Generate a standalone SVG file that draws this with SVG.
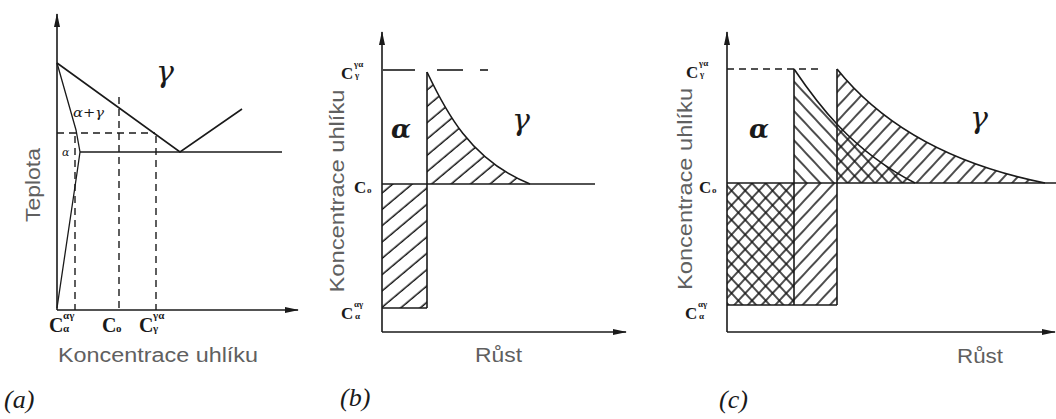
<svg xmlns="http://www.w3.org/2000/svg" width="1056" height="419" viewBox="0 0 1056 419">
<style>
.ln{fill:none;stroke:#1a1a1a;stroke-width:1.6}
.th{fill:none;stroke:#1a1a1a;stroke-width:1.3}
.ds{fill:none;stroke:#1a1a1a;stroke-width:1.4;stroke-dasharray:7 5}
.ax{font-family:"Liberation Sans",Arial,sans-serif;font-size:20px;fill:#606060}
.cl{font-family:"Liberation Serif","DejaVu Serif",serif;font-weight:bold;fill:#1a1a1a}
.gr{font-family:"DejaVu Serif",serif;font-style:italic;fill:#1a1a1a}
.pl{font-family:"Liberation Serif","DejaVu Serif",serif;font-style:italic;font-size:26px;fill:#1a1a1a}
</style>
<defs>
<marker id="arr" viewBox="0 0 14 8" refX="13" refY="4" markerWidth="14" markerHeight="8" markerUnits="userSpaceOnUse" orient="auto">
<path d="M0,1 L14,4 L0,7 Z" fill="#1a1a1a"/>
</marker>
<pattern id="hb" patternUnits="userSpaceOnUse" width="12.5" height="12" patternTransform="rotate(50)">
<line x1="6" y1="0" x2="6" y2="12" stroke="#111" stroke-width="1.5"/>
</pattern>
<pattern id="hf" patternUnits="userSpaceOnUse" width="10" height="10" patternTransform="rotate(43)">
<line x1="5" y1="0" x2="5" y2="10" stroke="#111" stroke-width="1.5"/>
</pattern>
<pattern id="hk" patternUnits="userSpaceOnUse" width="10" height="10" patternTransform="rotate(-43)">
<line x1="5" y1="0" x2="5" y2="10" stroke="#111" stroke-width="1.5"/>
</pattern>
</defs>
<rect width="1056" height="419" fill="#fff"/>

<!-- Panel (a) -->
<g id="panel-a">
<g id="a-connectors">
<line class="ln" x1="57" y1="310" x2="57" y2="14" marker-end="url(#arr)"/>
<line class="ln" x1="57" y1="310" x2="298" y2="310" marker-end="url(#arr)"/>
<polyline class="ln" points="57,63 180,152 242,109"/>
<line class="ln" x1="80" y1="152" x2="282" y2="152"/>
<polyline class="th" points="57,63 76,130 80,152 77,173 57,308"/>
<line class="ds" x1="57" y1="133" x2="155" y2="133"/>
<line class="ds" x1="75" y1="136" x2="75" y2="310"/>
<line class="ds" x1="119" y1="97" x2="119" y2="310"/>
<line class="ds" x1="156" y1="136" x2="156" y2="310"/>
</g>
<g id="a-labels">
<text class="gr" x="156" y="82" font-size="30">γ</text>
<text class="gr" x="73" y="117" font-size="13" textLength="31" lengthAdjust="spacingAndGlyphs">α+γ</text>
<text class="gr" x="62" y="156" font-size="11">α</text>
<text class="ax" transform="translate(40,185) rotate(-90)" text-anchor="middle" textLength="74" lengthAdjust="spacingAndGlyphs">Teplota</text>
<text class="ax" x="58" y="362" textLength="200" lengthAdjust="spacingAndGlyphs">Koncentrace uhlíku</text>
<text class="cl" x="49" y="332" font-size="20">C</text>
<text class="cl" x="63" y="319" font-size="11">αγ</text>
<text class="cl" x="63" y="332" font-size="11">α</text>
<text class="cl" x="102" y="332" font-size="20">C</text>
<text class="cl" x="116" y="332" font-size="11">o</text>
<text class="cl" x="139" y="332" font-size="20">C</text>
<text class="cl" x="153" y="319" font-size="11">γα</text>
<text class="cl" x="153" y="332" font-size="11">γ</text>
<text class="pl" x="4" y="408">(a)</text>
</g>
</g>

<!-- Panel (b) -->
<g id="panel-b">
<g id="b-hatch">
<rect x="382" y="184" width="45" height="124" fill="url(#hb)"/>
<path d="M427,72 C445,110 470,160 530,184 L427,184 Z" fill="url(#hb)"/>
</g>
<g id="b-connectors">
<line class="ln" x1="382" y1="332" x2="382" y2="32" marker-end="url(#arr)"/>
<line class="ln" x1="382" y1="332" x2="626" y2="332" marker-end="url(#arr)"/>
<line class="ln" x1="382" y1="184" x2="595" y2="184"/>
<line class="ln" x1="427" y1="72" x2="427" y2="308"/>
<line class="ln" x1="382" y1="308" x2="427" y2="308"/>
<path class="ln" d="M427,72 C445,110 470,160 530,184"/>
<line class="ln" x1="383" y1="70" x2="415" y2="70"/>
<line class="ln" x1="437" y1="70" x2="463" y2="70"/>
<line class="ln" x1="480" y1="70" x2="488" y2="70"/>
</g>
<g id="b-labels">
<text class="gr" x="391" y="138" font-size="26" font-weight="bold">α</text>
<text class="gr" x="512" y="130" font-size="30">γ</text>
<text class="ax" transform="translate(344,191) rotate(-90)" text-anchor="middle" textLength="203" lengthAdjust="spacingAndGlyphs">Koncentrace uhlíku</text>
<text class="ax" x="475" y="362" textLength="47" lengthAdjust="spacingAndGlyphs">Růst</text>
<text class="cl" x="341" y="79" font-size="17">C</text>
<text class="cl" x="354" y="67" font-size="9">γα</text>
<text class="cl" x="355" y="78" font-size="9">γ</text>
<text class="cl" x="354" y="193" font-size="17">C</text>
<text class="cl" x="367" y="193" font-size="9">o</text>
<text class="cl" x="341" y="319" font-size="17">C</text>
<text class="cl" x="354" y="307" font-size="9">αγ</text>
<text class="cl" x="355" y="319" font-size="9">α</text>
<text class="pl" x="340" y="406">(b)</text>
</g>
</g>

<!-- Panel (c) -->
<g id="panel-c">
<g id="c-hatch">
<rect x="727" y="183" width="110" height="122" fill="url(#hf)"/>
<rect x="727" y="183" width="67" height="122" fill="url(#hk)"/>
<path d="M794,69 C815,100 850,150 915,183 L794,183 Z" fill="url(#hk)"/>
<path d="M837,69 C870,110 930,160 1045,183 L837,183 Z" fill="url(#hf)"/>
</g>
<g id="c-connectors">
<line class="ln" x1="727" y1="332" x2="727" y2="32" marker-end="url(#arr)"/>
<line class="ln" x1="727" y1="332" x2="1055" y2="332" marker-end="url(#arr)"/>
<line class="ln" x1="727" y1="183" x2="1056" y2="183"/>
<line class="ds" x1="727" y1="69" x2="823" y2="69"/>
<line class="ln" x1="794" y1="69" x2="794" y2="305"/>
<line class="ln" x1="837" y1="69" x2="837" y2="305"/>
<line class="ln" x1="727" y1="305" x2="837" y2="305"/>
<path class="ln" d="M794,69 C815,100 850,150 915,183"/>
<path class="ln" d="M837,69 C870,110 930,160 1045,183"/>
</g>
<g id="c-labels">
<text class="gr" x="749" y="138" font-size="26" font-weight="bold">α</text>
<text class="gr" x="970" y="128" font-size="30">γ</text>
<text class="ax" transform="translate(692,189) rotate(-90)" text-anchor="middle" textLength="202" lengthAdjust="spacingAndGlyphs">Koncentrace uhlíku</text>
<text class="ax" x="957" y="363" textLength="46" lengthAdjust="spacingAndGlyphs">Růst</text>
<text class="cl" x="686" y="78" font-size="17">C</text>
<text class="cl" x="699" y="66" font-size="9">γα</text>
<text class="cl" x="700" y="77" font-size="9">γ</text>
<text class="cl" x="699" y="193" font-size="17">C</text>
<text class="cl" x="712" y="193" font-size="9">o</text>
<text class="cl" x="685" y="319" font-size="17">C</text>
<text class="cl" x="698" y="307" font-size="9">αγ</text>
<text class="cl" x="699" y="319" font-size="9">α</text>
<text class="pl" x="719" y="408">(c)</text>
</g>
</g>
</svg>
